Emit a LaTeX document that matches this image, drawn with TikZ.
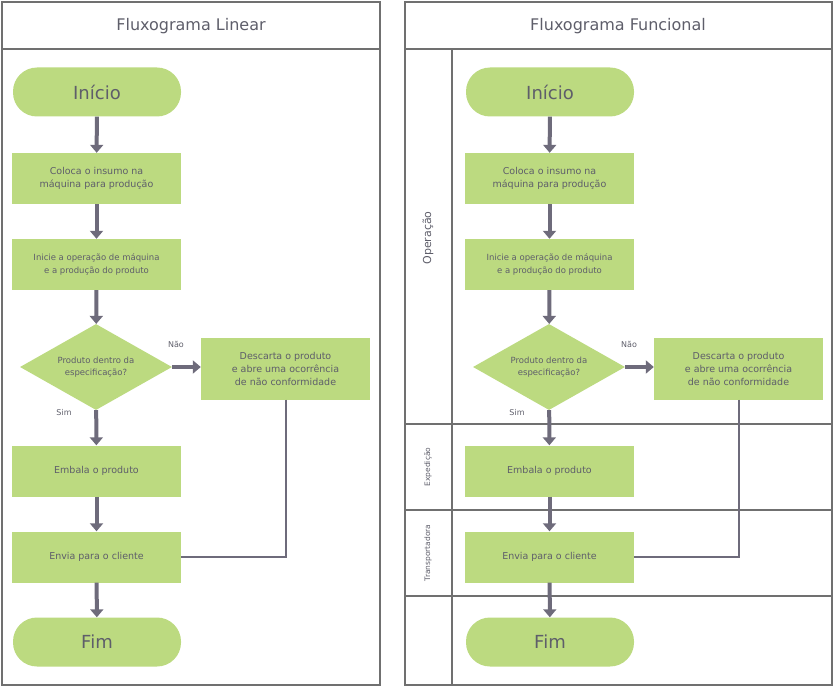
\documentclass[tikz,border=0pt]{standalone}
\usepackage{fontspec}
\setmainfont{DejaVu Sans}
\usetikzlibrary{shapes.geometric,arrows.meta}
\definecolor{gr}{HTML}{BCDA80}
\definecolor{ar}{HTML}{6E6B7B}
\definecolor{tx}{HTML}{5E5E6A}
\definecolor{fr}{HTML}{707070}
\begin{document}
\begin{tikzpicture}[x=1pt,y=-1pt,
 box/.style={fill=gr,draw=none,minimum width=169pt,minimum height=51pt,align=center,text=tx,font=\fontsize{9.5}{13}\selectfont},
 wbox/.style={box,minimum height=62pt},
 term/.style={fill=gr,draw=none,rounded corners=24pt,minimum width=168pt,minimum height=49pt,text=tx,font=\fontsize{18}{20}\selectfont},
 dia/.style={fill=gr,draw=none,diamond,aspect=1.77,minimum width=152pt,minimum height=86pt,inner sep=0pt,align=center,text=tx,font=\fontsize{8.5}{12}\selectfont},
 flow/.style={ar,line width=4pt,-{Triangle[width=13pt,length=8pt]}},
 plain/.style={ar,line width=2pt},
 frame/.style={draw=fr,line width=1.5pt},
 lab/.style={text=tx,font=\fontsize{8}{10}\selectfont},
 title/.style={text=tx,font=\fontsize{16}{18}\selectfont},
 lane/.style={text=tx,rotate=90}]
\useasboundingbox (0,0) rectangle (834,687);
% frames
\draw[frame] (2,2) rectangle (380,685);
\draw[frame] (2,49) -- (380,49);
\draw[frame] (405,2) rectangle (832,685);
\draw[frame] (405,49) -- (832,49);
\draw[frame] (452,49) -- (452,685);
\draw[frame] (405,424) -- (832,424);
\draw[frame] (405,510) -- (832,510);
\draw[frame] (405,596) -- (832,596);
\node[title] (t1) at (191,26) {Fluxograma Linear};
\node[title] (t2) at (618,26) {Fluxograma Funcional};
\node[lane,font=\fontsize{11}{12}\selectfont] (l1) at (428,238) {Operação};
\node[lane,font=\fontsize{7.5}{9}\selectfont] (l2) at (428,467) {Expedição};
\node[lane,font=\fontsize{7.5}{9}\selectfont] (l3) at (428,553) {Transportadora};
\foreach \p/\dx in {L/0,R/453}{
 \node[term] (\p i) at (97+\dx,92) {Início};
 \node[box] (\p a) at (96.5+\dx,178.5) {Coloca o insumo na\\máquina para produção};
 \node[box,font=\fontsize{8.5}{13}\selectfont] (\p b) at (96.5+\dx,264.5) {Inicie a operação de máquina\\e a produção do produto};
 \node[dia] (\p d) at (96+\dx,367) {Produto dentro da\\especificação?};
 \node[wbox] (\p x) at (285.5+\dx,368.5) {Descarta o produto\\e abre uma ocorrência\\de não conformidade};
 \node[box] (\p e) at (96.5+\dx,471) {Embala o produto};
 \node[box] (\p v) at (96.5+\dx,557) {Envia para o cliente};
 \node[term] (\p f) at (97+\dx,642) {Fim};
 \draw[flow] (\p i) -- (\p a);
 \draw[flow] (\p a) -- (\p b);
 \draw[flow] (\p b) -- (\p d);
 \draw[flow] (\p d) -- (\p e);
 \draw[flow] (\p d.east) -- (\p x.west |- \p d.east);
 \draw[flow] (\p e) -- (\p v);
 \draw[flow] (\p v) -- (\p f);
 \draw[plain] (\p x.south) |- (\p v.east);
 \node[lab] (\p n) at (176+\dx,344) {Não};
 \node[lab] (\p s) at (64+\dx,413) {Sim};
}
\end{tikzpicture}
\end{document}
